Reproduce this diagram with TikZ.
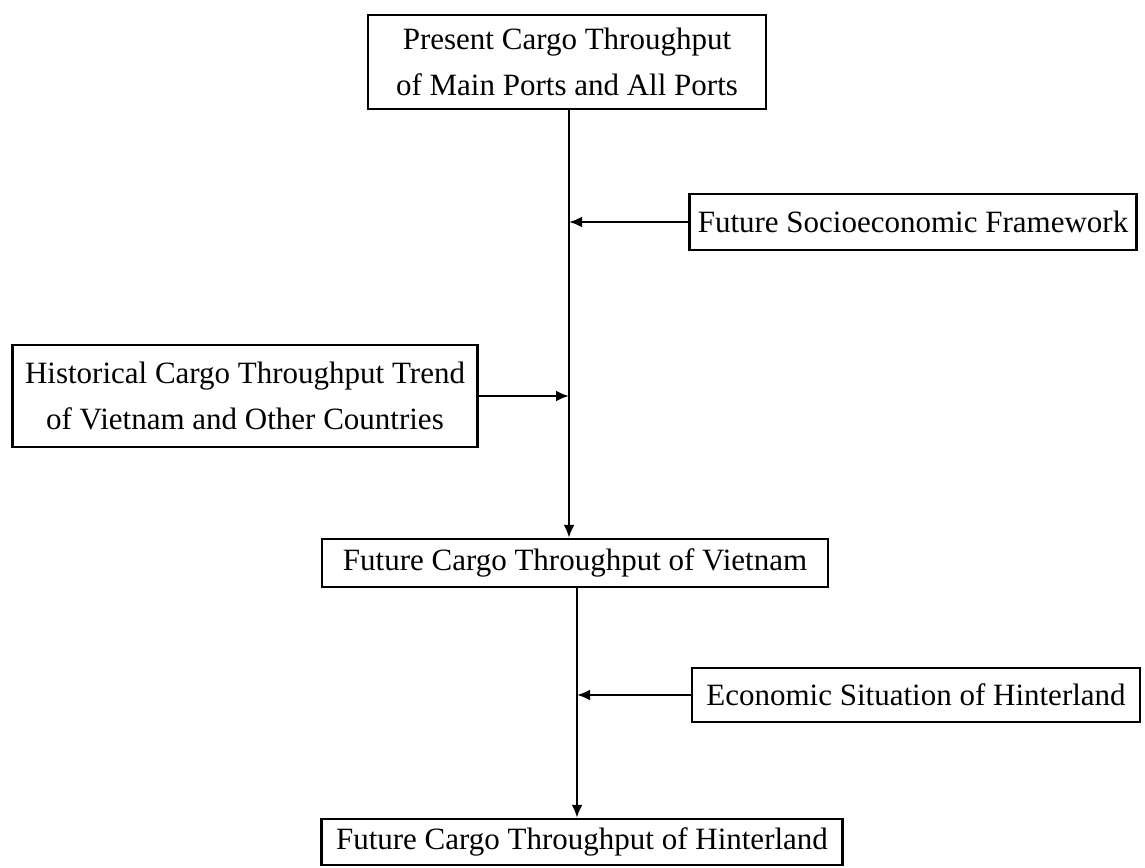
\documentclass[tikz,border=0pt]{standalone}
\usepackage{fontspec}
\setmainfont{Liberation Serif}
\usetikzlibrary{arrows.meta}
\begin{document}
\begin{tikzpicture}[x=1pt,y=-1pt,
  box/.style={draw, line width=2.4pt, inner sep=0pt, align=center, font=\fontsize{31}{46}\selectfont},
  arr/.style={line width=2.4pt, -{Latex[length=13pt,width=11pt]}}]
\useasboundingbox (0,0) rectangle (1145,867);
\node[box, minimum width=398pt, minimum height=94pt] (p) at (567,62) {Present Cargo Throughput\\of Main Ports and All Ports};
\node[box, minimum width=447pt, minimum height=56pt] (s) at (913,222) {Future Socioeconomic Framework};
\node[box, minimum width=465pt, minimum height=102pt] (h) at (245,396) {Historical Cargo Throughput Trend\\of Vietnam and Other Countries};
\node[box, minimum width=506pt, minimum height=48pt] (v) at (575,563) {Future Cargo Throughput of Vietnam};
\node[box, minimum width=448pt, minimum height=54pt] (e) at (916,695) {Economic Situation of Hinterland};
\node[box, minimum width=521pt, minimum height=46pt] (t) at (582,842) {Future Cargo Throughput of Hinterland};
\coordinate (m1) at (569,0);
\coordinate (m2) at (577,0);
\draw[arr] (p.south -| m1) -- (v.north -| m1);
\draw[arr] (s.west) -- (s.west -| m1);
\draw[arr] (h.east) -- (h.east -| m1);
\draw[arr] (v.south -| m2) -- (t.north -| m2);
\draw[arr] (e.west) -- (e.west -| m2);
\end{tikzpicture}
\end{document}
